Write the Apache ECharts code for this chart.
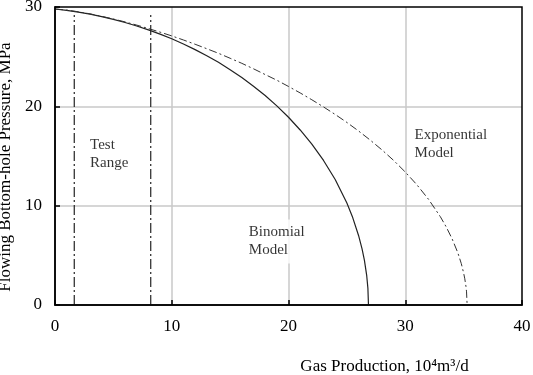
<!DOCTYPE html>
<html><head><meta charset="utf-8">
<script src="https://cdn.jsdelivr.net/npm/echarts@6/dist/echarts.min.js"></script>
<style>html,body{margin:0;padding:0;background:#fff}#c{width:533px;height:375px}</style>
</head><body><div id="c"></div>
<script>
const xTicks = [0, 10, 20, 30, 40];
const yTicks = [0, 10, 20, 30];
const binomialQ = [0, 1, 2, 3, 4, 5, 6, 7, 8, 9, 10, 11, 12, 13, 14, 15, 16, 17, 18, 19, 20, 21, 22, 23, 24, 25, 25.5, 26, 26.3, 26.5, 26.7, 26.8, 26.85];
const binomialP = [29.8, 29.66, 29.48, 29.28, 29.03, 28.76, 28.44, 28.09, 27.7, 27.27, 26.8, 26.28, 25.71, 25.1, 24.43, 23.69, 22.9, 22.03, 21.09, 20.05, 18.9, 17.62, 16.19, 14.55, 12.63, 10.27, 8.8, 7.0, 5.65, 4.52, 2.95, 1.7, 0];
const exponentialQ = [0, 1, 2, 3, 4, 5, 6, 7, 8, 9, 10, 11, 12, 13, 14, 15, 16, 17, 18, 19, 20, 21, 22, 23, 24, 25, 26, 27, 28, 29, 30, 31, 32, 33, 33.5, 34, 34.5, 34.8, 35, 35.1, 35.2, 35.25, 35.3];
const exponentialP = [29.8, 29.69, 29.52, 29.31, 29.06, 28.79, 28.5, 28.18, 27.83, 27.47, 27.09, 26.68, 26.25, 25.8, 25.34, 24.84, 24.33, 23.78, 23.2, 22.63, 22.0, 21.35, 20.66, 19.94, 19.18, 18.38, 17.52, 16.6, 15.62, 14.56, 13.39, 12.1, 10.63, 8.9, 7.88, 6.7, 5.27, 4.17, 3.23, 2.64, 1.87, 1.32, 0];
const testRange = [1.65, 8.2];
const testRangeTop = 29.2;
const annotations = [
  {q: 3.0, p: 15.2, text: 'Test\nRange'},
  {q: 16.6, p: 6.4, text: 'Binomial\nModel'},
  {q: 30.8, p: 16.2, text: 'Exponential\nModel'}
];

const serif = '"Liberation Serif", "DejaVu Serif", serif';
const chart = echarts.init(document.getElementById('c'));
const zip = (a, b) => a.map((v, i) => [v, b[i]]);

const series = [
  {
    type: 'line', name: 'Binomial', data: zip(binomialQ, binomialP),
    symbol: 'none', lineStyle: {color: '#222', width: 1.2}, z: 5
  },
  {
    type: 'line', name: 'Exponential', data: zip(exponentialQ, exponentialP),
    symbol: 'none', lineStyle: {color: '#333', width: 1, type: [8, 3, 2, 3]}, z: 5
  }
];
testRange.forEach(q => {
  series.push({
    type: 'line', data: [[q, 0], [q, testRangeTop]], symbol: 'none',
    lineStyle: {color: '#222', width: 1.2, type: [10, 3, 2, 3]}, z: 4
  });
});
series.push({
  type: 'scatter', symbolSize: 0, z: 3,
  data: annotations.map(a => ({value: [a.q, a.p], name: a.text})),
  label: {
    show: true, position: 'right', distance: 0, formatter: p => p.name,
    fontFamily: serif, fontSize: 15, color: '#000', lineHeight: 18,
    backgroundColor: '#fff', padding: [4, 4, 4, 0], align: 'left'
  }
});

chart.setOption({
  animation: false,
  backgroundColor: '#fff',
  grid: {left: 55, right: 11, top: 7, bottom: 70, outerBoundsMode: 'none', containLabel: false,
         show: true, borderColor: '#000', borderWidth: 1.5, z: 10},
  xAxis: {
    type: 'value', min: xTicks[0], max: xTicks[xTicks.length - 1], interval: 10,
    axisLine: {show: true, lineStyle: {color: '#000', width: 1.5}},
    axisTick: {show: true, inside: true, length: 5, lineStyle: {color: '#000', width: 1.5}},
    splitLine: {show: true, showMinLine: false, showMaxLine: false, lineStyle: {color: '#c8c8c8', width: 1.5}},
    axisLabel: {fontFamily: serif, fontSize: 17, color: '#000', margin: 13},
    name: 'Gas Production, 10⁴m³/d', nameLocation: 'middle', nameGap: 53,
    nameTextStyle: {fontFamily: serif, fontSize: 17, color: '#000', padding: [0, 0, 0, 192]}
  },
  yAxis: {
    type: 'value', min: yTicks[0], max: yTicks[yTicks.length - 1], interval: 10,
    axisLine: {show: true, lineStyle: {color: '#000', width: 1.5}},
    axisTick: {show: true, inside: true, length: 5, lineStyle: {color: '#000', width: 1.5}},
    splitLine: {show: true, showMinLine: false, showMaxLine: false, lineStyle: {color: '#c8c8c8', width: 1.5}},
    axisLabel: {fontFamily: serif, fontSize: 17, color: '#000', margin: 13},
    name: 'Flowing Bottom-hole Pressure, MPa', nameLocation: 'middle', nameGap: 30,
    nameTextStyle: {fontFamily: serif, fontSize: 17, color: '#000', padding: [0, 22, 0, 0]}
  },
  series: series
});
</script></body></html>
